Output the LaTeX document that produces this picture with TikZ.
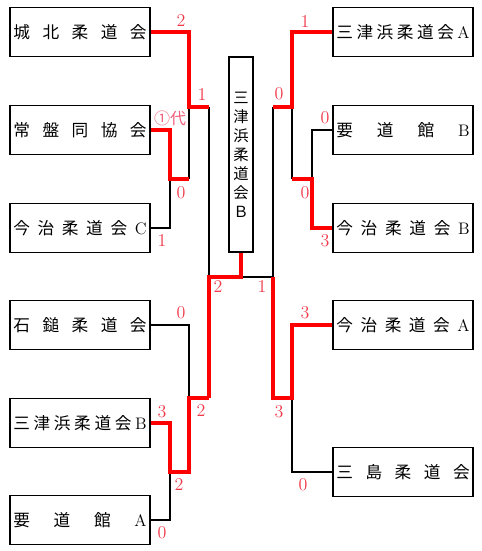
\documentclass[tikz,border=0pt]{standalone}
\usepackage{fontspec}
\usepackage{tikz}
\usetikzlibrary{positioning,calc}
\newfontfamily\jp{Noto Sans CJK JP}
\definecolor{winred}  {HTML}{FF0000}
\definecolor{scorered}{HTML}{F03A4A}
\definecolor{subred}  {HTML}{F0607A}
\newcommand\spread[1]{\hbox to 100pt{#1}}
\newcommand\lt[1]{{\rmfamily #1}}

\begin{document}
\begin{tikzpicture}[
  team/.style ={draw,line width=1.1pt,minimum width=105pt,minimum height=36.5pt,
                inner sep=0pt,font=\jp\fontsize{12.5}{14}\selectfont},
  champ/.style={draw,line width=1.1pt,minimum width=18pt,minimum height=146pt,
                inner sep=0pt,align=center,font=\jp\fontsize{11.5}{14.2}\selectfont},
  lose/.style ={line width=0.9pt},
  win/.style  ={line width=2.6pt,color=winred},
  sc/.style   ={inner sep=0pt,color=scorered,font=\fontsize{13.5}{14}\selectfont},
  sub/.style  ={inner sep=0pt,color=subred,font=\jp\fontsize{12}{13}\selectfont},
  x=0.75pt, y=-0.75pt
]
\useasboundingbox (0,0) rectangle (482,551);
%% Left column
\node[team] (johoku)  at (80, 32)  {\spread{城\hfill 北\hfill 柔\hfill 道\hfill 会}};
\node[team] (tokiwa)  at (80, 130) {\spread{常\hfill 盤\hfill 同\hfill 協\hfill 会}};
\node[team] (imaC)    at (80, 228) {\spread{今\hfill 治\hfill 柔\hfill 道\hfill 会\hfill\lt{C}}};
\node[team] (ishi)    at (80, 325) {\spread{石\hfill 鎚\hfill 柔\hfill 道\hfill 会}};
\node[team] (mitsuB)  at (80, 423) {\spread{三\hfill 津\hfill 浜\hfill 柔\hfill 道\hfill 会\hfill\lt{B}}};
\node[team] (youA)    at (80, 520) {\spread{要\hfill 道\hfill 館\hfill\lt{A}}};
%% Right column
\node[team] (mitsuA)  at (403, 32)  {\spread{三\hfill 津\hfill 浜\hfill 柔\hfill 道\hfill 会\hfill\lt{A}}};
\node[team] (youB)    at (403, 130) {\spread{要\hfill 道\hfill 館\hfill\lt{B}}};
\node[team] (imaB)    at (403, 228) {\spread{今\hfill 治\hfill 柔\hfill 道\hfill 会\hfill\lt{B}}};
\node[team] (imaA)    at (403, 325) {\spread{今\hfill 治\hfill 柔\hfill 道\hfill 会\hfill\lt{A}}};
\node[team] (mishima) at (403, 472) {\spread{三\hfill 島\hfill 柔\hfill 道\hfill 会}};
%% Winner (centre)
\node[champ] (champ) at (241, 154.5) {三\\津\\浜\\柔\\道\\会\\Ｂ};
%% Joints
\coordinate (m1)  at (170, 179);
\coordinate (m1o) at (189, 179);
\coordinate (m2)  at (189, 107);
\coordinate (m2o) at (209, 107);
\coordinate (m3)  at (170, 472);
\coordinate (m3o) at (189, 472);
\coordinate (m4)  at (189, 398);
\coordinate (m4o) at (209, 398);
\coordinate (m5)  at (312, 179);
\coordinate (m5o) at (292, 179);
\coordinate (m6)  at (292, 107);
\coordinate (m6o) at (273, 107);
\coordinate (m7)  at (292, 398);
\coordinate (m7o) at (273, 398);
\coordinate (fl)  at (209, 277);
\coordinate (fr)  at (273, 277);
\coordinate (fc)  at (champ.south |- fl);
%% Losing lines
\draw[lose] (imaC.east) -| (m1);
\draw[lose] (m1o) -- (m2);
\draw[lose] (m2o) -- (fl);
\draw[lose] (ishi.east) -| (m4);
\draw[lose] (youA.east) -| (m3);
\draw[lose] (fc) -- (fr);
\draw[lose] (m6o) -- (fr);
\draw[lose] (m6) -- (m5o);
\draw[lose] (youB.west) -| (m5);
\draw[lose] (mishima.west) -| (m7);
%% Winning lines
\draw[win] (tokiwa.east) -| (m1) -- (m1o);
\draw[win] (johoku.east) -| (m2) -- (m2o);
\draw[win] (mitsuB.east) -| (m3) -- (m3o) -- (m4) -- (m4o);
\draw[win] (m4o) -- (fl) -- (fc) -- (champ.south);
\draw[win] (mitsuA.west) -| (m6) -- (m6o);
\draw[win] (imaB.west) -| (m5) -- (m5o);
\draw[win] (imaA.west) -| (m7) -- (m7o) -- (fr);
%% Scores
\node[sc]  (s1)  at (181, 21)  {2};
\node[sc]  (s2)  at (202, 95)  {1};
\node[sub] (s3)  at (170, 118) {①代};
\node[sc]  (s4)  at (181, 193) {0};
\node[sc]  (s5)  at (162, 241) {1};
\node[sc]  (s6)  at (305, 22)  {1};
\node[sc]  (s7)  at (279, 94)  {0};
\node[sc]  (s8)  at (325, 118) {0};
\node[sc]  (s9)  at (305, 193) {0};
\node[sc]  (s10) at (325, 241) {3};
\node[sc]  (s11) at (218, 287) {2};
\node[sc]  (s12) at (262, 287) {1};
\node[sc]  (s13) at (181, 313) {0};
\node[sc]  (s14) at (201, 411) {2};
\node[sc]  (s15) at (162, 412) {3};
\node[sc]  (s16) at (179, 485) {2};
\node[sc]  (s17) at (162, 533) {0};
\node[sc]  (s18) at (305, 313) {3};
\node[sc]  (s19) at (279, 412) {3};
\node[sc]  (s20) at (303, 485) {0};
\end{tikzpicture}
\end{document}
